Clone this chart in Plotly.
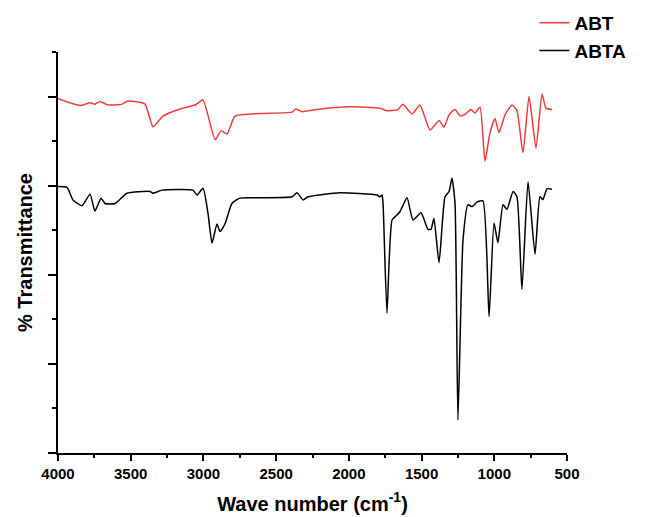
import plotly.graph_objects as go

# FTIR spectra (wavenumber in cm-1, transmittance in arbitrary %)
abt_wn = [4000, 3849, 3780, 3746, 3711, 3656, 3560, 3519, 3402, 3347, 3278, 3161, 3058, 3003,
          2920, 2879, 2838, 2783, 2611, 2391, 2364, 2322, 2219, 1992, 1786, 1738, 1662, 1628,
          1566, 1511, 1442, 1380, 1346, 1311, 1270, 1236, 1201, 1160, 1133, 1098, 1064, 1030,
          995, 968, 926, 878, 844, 803, 761, 713, 672, 645, 603]
abt_t = [79.5, 78.0, 78.6, 78.3, 78.9, 78.1, 78.3, 79.0, 78.3, 73.2, 75.6, 77.2, 78.1, 79.2,
         70.3, 72.3, 71.6, 75.6, 76.2, 76.5, 77.2, 76.6, 77.1, 77.7, 77.4, 76.8, 77.1, 78.3,
         76.1, 78.1, 72.5, 74.6, 73.1, 75.9, 77.1, 75.7, 76.0, 77.1, 76.3, 77.6, 65.5, 71.8,
         75.1, 71.9, 75.9, 78.1, 76.8, 67.4, 80.0, 68.4, 80.6, 77.4, 77.1]

abta_wn = [4000, 3938, 3897, 3835, 3780, 3746, 3704, 3677, 3608, 3526, 3367, 3347, 3285, 3072,
           3044, 3003, 2969, 2941, 2907, 2886, 2852, 2804, 2749, 2611, 2391, 2357, 2315, 2281,
           2061, 1807, 1786, 1772, 1765, 1738, 1703, 1669, 1648, 1600, 1559, 1504, 1456, 1435,
           1415, 1380, 1339, 1311, 1291, 1270, 1250, 1215, 1181, 1153, 1119, 1078, 1036, 1002,
           975, 940, 913, 871, 844, 810, 768, 720, 686, 665, 638, 603]
abta_t = [59.8, 59.6, 56.8, 55.5, 58.1, 54.3, 57.2, 56.0, 56.0, 58.3, 58.7, 58.3, 59.0, 59.0,
          57.9, 59.4, 53.9, 47.1, 51.4, 49.7, 51.4, 56.0, 57.2, 57.3, 57.5, 58.4, 56.8, 57.5,
          58.4, 57.9, 57.5, 57.9, 56.1, 31.4, 52.3, 53.4, 54.2, 57.3, 52.3, 53.9, 50.2, 50.2,
          52.7, 42.7, 57.5, 58.7, 61.7, 56.0, 7.4, 47.8, 55.7, 55.3, 56.3, 56.6, 30.6, 51.6,
          47.2, 55.7, 54.7, 58.7, 57.5, 36.7, 60.9, 44.6, 57.5, 56.9, 59.3, 59.2]

font_family = "Liberation Sans, Arial, sans-serif"

fig = go.Figure()
fig.add_trace(go.Scatter(x=abt_wn, y=abt_t, mode="lines", name="<b>ABT</b>",
                         line=dict(color="#F03C3C", width=1.5, shape="spline", smoothing=0.5)))
fig.add_trace(go.Scatter(x=abta_wn, y=abta_t, mode="lines", name="<b>ABTA</b>",
                         line=dict(color="#000000", width=1.5, shape="spline", smoothing=0.5)))

# page body has an 8px margin, so margins are trimmed by 8 on left/top
# autoexpand off so the legend up in the corner doesn't shrink the plot
fig.update_layout(
    width=649, height=517,
    margin=dict(l=50, r=90, t=44, b=72, autoexpand=False),
    paper_bgcolor="white", plot_bgcolor="white",
    font=dict(family=font_family, color="black"),
    legend=dict(x=0.936, y=1.12, xanchor="left", yanchor="top", bgcolor="rgba(0,0,0,0)",
                font=dict(size=19, color="black")),
    xaxis=dict(
        range=[4000, 500], showgrid=False, zeroline=False,
        showline=True, linecolor="black", linewidth=1.5,
        ticks="outside", tickcolor="black", ticklen=6, tickwidth=1.5,
        tick0=500, dtick=500,
        tickfont=dict(size=15, color="black", family=font_family),
        tickprefix="<b>", ticksuffix="</b>",
        minor=dict(ticks="outside", ticklen=3, tickcolor="black", dtick=250, tick0=500),
        title=dict(text="<b>Wave number (cm<sup>-1</sup>)</b>", font=dict(size=20), standoff=16),
    ),
    yaxis=dict(
        range=[0, 90], showgrid=False, zeroline=False,
        showline=True, linecolor="black", linewidth=1.5,
        ticks="outside", tickcolor="black", ticklen=8, tickwidth=1.5,
        tick0=0, dtick=20, showticklabels=False,
        minor=dict(ticks="outside", ticklen=4, tickcolor="black", dtick=10, tick0=0),
        title=dict(text="<b>% Transmittance</b>", font=dict(size=20), standoff=10),
    ),
)

fig.write_html("out.html")
